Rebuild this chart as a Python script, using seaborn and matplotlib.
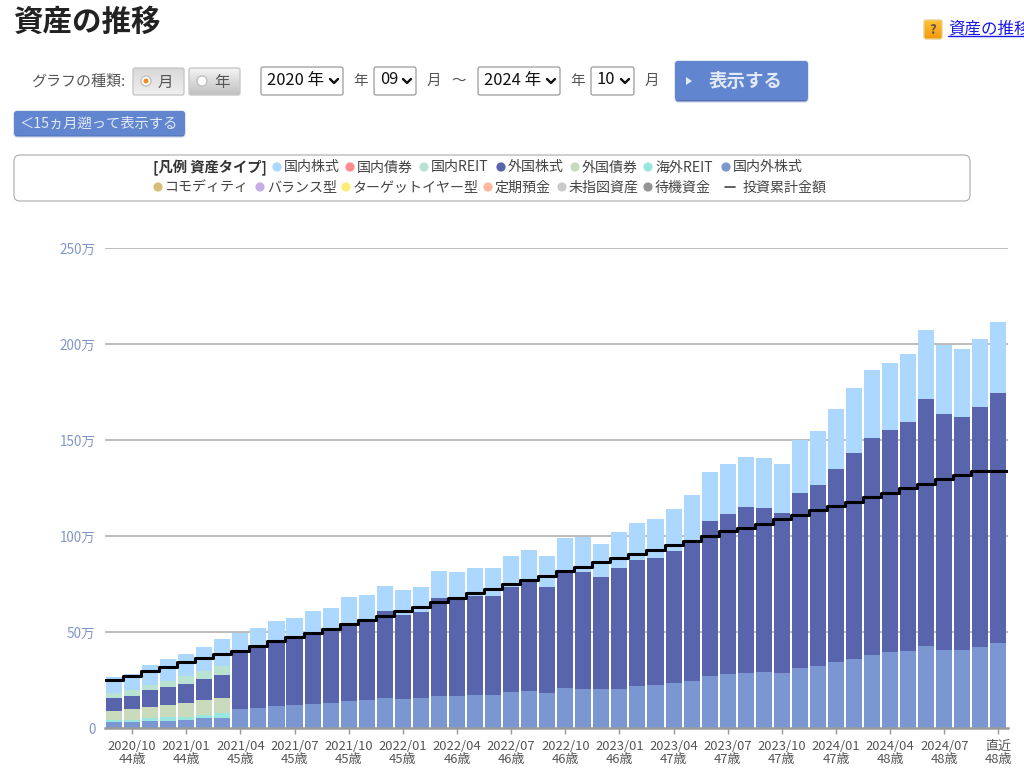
import numpy as np
import matplotlib
matplotlib.use("Agg")
import matplotlib.pyplot as plt
from matplotlib.patches import FancyBboxPatch, Circle, Polygon, Rectangle
import seaborn as sns

# ---------- data (万円) ----------
domestic_foreign = [3.0,3.3,3.6,3.8,4.2,5.0,5.4,10,10.6,11.6,12,12.7,13,14,14.6,15.4,14.9,15.4,16.7,16.8,17.2,17.2,18.6,19.1,18.4,20.7,20.5,20.2,20.5,21.7,22.2,23.3,24.7,27.1,28,28.8,29.3,28.5,31.1,32.3,34.2,36.1,38,39.4,39.9,42.9,40.8,40.5,42.4,44.1]
overseas_reit = [1.0,1.0,1.6,1.7,1.7,2.0,2.2] + [0]*43
foreign_bond = [5.0,5.6,5.9,6.5,7.1,7.4,8.2] + [0]*43
foreign_stock = [6.6,6.9,8.5,9.2,10,10.9,12,30,31.6,33.2,35.2,36.3,37.9,40.9,40.8,45.4,44,44.9,50.8,51.2,51.7,51.7,55,57.1,55.2,60.3,60.9,58.4,62.6,65.6,66.3,69,72.3,80.9,83.6,86.2,85.3,83.6,91.1,94.1,100.5,106.9,112.9,116,119.7,128.3,122.9,121.3,124.6,130.6]
domestic_reit = [2.6,2.8,3.0,3.3,4.0,4.4,4.7] + [0]*43
domestic_stock = [8.2,8.4,10.2,11.3,11.7,12.7,14,9.3,10,11,10.3,12,11.8,13.1,13.9,13.2,12.8,13,14.3,13,14.6,14.6,16,16.3,16,18,18.3,17.4,18.9,19.5,20.5,21.6,24.5,25.5,26.1,26,26,25.6,28,28.5,31.5,33.9,35.6,34.7,35.2,36.1,35.8,35.4,35.6,36.8]
invested = [25,27,29.5,32,34.4,36.5,38.5,40,42.5,45.1,47.4,49.5,51.6,54,56.3,58.5,61,63.2,65.5,67.9,70.1,72.5,75,76.9,79,81.8,83.9,86.3,88.5,90.4,92.7,95.1,97.6,100,102.4,104.2,106.4,108.9,111.1,113.5,115.8,117.9,120.1,122.6,124.8,127.2,129.5,131.9,133.8,133.8]
x_labels = ["2020/10\n44歳","2021/01\n44歳","2021/04\n45歳","2021/07\n45歳","2021/10\n45歳","2022/01\n45歳","2022/04\n46歳","2022/07\n46歳","2022/10\n46歳","2023/01\n46歳","2023/04\n47歳","2023/07\n47歳","2023/10\n47歳","2024/01\n47歳","2024/04\n48歳","2024/07\n48歳","直近\n48歳"]
y_values = [0,50,100,150,200,250]
y_labels = ["0","50万","100万","150万","200万","250万"]
legend_row1 = ["国内株式","国内債券","国内REIT","外国株式","外国債券","海外REIT","国内外株式"]
legend_row2 = ["コモディティ","バランス型","ターゲットイヤー型","定期預金","未指図資産","待機資金"]

# ---------- styles ----------
C_DF, C_OR, C_FB, C_FS, C_DR, C_DS = "#7a97d2", "#99e6e0", "#c9dbbc", "#5864ab", "#b9e2d2", "#acd7ff"
colors_row1 = ["#acd7ff","#ff8a8f","#b9e2d2","#5864ab","#c9dbbc","#99e6e0","#7a97d2"]
colors_row2 = ["#d6be78","#c6aee6","#fbec78","#ffb8a0","#c9c9c9","#959595"]
row1_dots = [277,350,424,501,575,648,726]
row2_dots = [158,260,346,488,562,648]
TXT = "#444444"

sns.set_theme(style="white")
plt.rcParams["font.family"] = ["Noto Sans CJK JP", "DejaVu Sans"]

W, H = 1024, 777
fig = plt.figure(figsize=(W/100, H/100), dpi=100, facecolor="white")

# ---------- page chrome in pixel coordinates ----------
ui = fig.add_axes([0, 0, 1, 1], zorder=0)
ui.set_xlim(0, W); ui.set_ylim(H, 0); ui.axis("off")

def px(s):
    return s * 0.72

def t(x, y, s, size=14, color=TXT, ha="left", weight="normal", **kw):
    return ui.text(x, y + 1.5, s, fontsize=px(size), color=color, ha=ha, va="center", fontweight=weight, **kw)

def rbox(x0, y0, x1, y1, r=3, fc="white", ec="#aaaaaa", lw=1.0, z=2):
    p = FancyBboxPatch((x0+r, y0+r), x1-x0-2*r, y1-y0-2*r, boxstyle=f"round,pad={r},rounding_size={r}",
                       fc=fc, ec=ec, lw=lw, zorder=z)
    ui.add_patch(p)
    return p

def grad_box(x0, y0, x1, y1, top, bottom, ec="#c8c8c8"):
    p = rbox(x0, y0, x1, y1, r=2, fc="none", ec=ec, lw=1.0, z=3)
    c0, c1 = np.array(matplotlib.colors.to_rgb(top)), np.array(matplotlib.colors.to_rgb(bottom))
    g = np.linspace(0, 1, 32)[:, None, None] * (c1 - c0) + c0
    im = ui.imshow(g, extent=(x0, x1, y1, y0), aspect="auto", zorder=2)
    im.set_clip_path(p)
    ui.set_xlim(0, W); ui.set_ylim(H, 0)

t(14, 20, "資産の推移", size=29.5, color="#222222", weight="bold")

# help link
grad_box(924, 20, 942, 39, "#ffc233", "#f59a0a", ec="#e8d090")
t(933, 28, "?", size=13, color="#555555", ha="center", weight="bold")
t(948, 27, "資産の推移", size=16.5, color="#1a1ae6")
ui.plot([948, 1024], [36, 36], color="#1a1ae6", lw=1)

# graph type
t(31, 80, "グラフの種類:", size=15, color="#555555")
grad_box(133, 68, 184, 95, "#d8d8d8", "#f0f0f0")
grad_box(189, 68, 240, 95, "#f4f4f4", "#c0c0c0")
for cx, on in ((146, True), (202, False)):
    ui.add_patch(Circle((cx, 81), 5, fc="white", ec="#c0c0c0", lw=1, zorder=4))
    if on:
        ui.add_patch(Circle((cx, 81), 2.5, fc="#f58a1f", ec="none", zorder=5))
t(165, 81, "月", size=15.5, ha="center", zorder=5, color="#555555")
t(222, 81, "年", size=15.5, ha="center", zorder=5, color="#555555")

# selects
def select(x0, x1, s):
    rbox(x0, 67, x1, 95, r=2, fc="white", ec="#8f8f8f", lw=0.8)
    t(x0+6, 78.5, s, size=16.5, color="#111111", zorder=5)
    cx = x1 - 9
    ui.plot([cx-4, cx, cx+4], [79, 83, 79], color="#111111", lw=1.7, zorder=5)

select(261, 343, "2020 年")
select(374, 416, "09")
select(478, 560, "2024 年")
select(591, 634, "10")
t(361, 79, "年", size=14.5, ha="center", color="#555555")
t(434, 79, "月", size=14.5, ha="center", color="#555555")
t(459, 79, "～", size=14.5, ha="center", color="#555555")
t(578, 79, "年", size=14.5, ha="center", color="#555555")
t(652, 79, "月", size=14.5, ha="center", color="#555555")

# buttons
rbox(675, 61, 808, 102, r=3, fc="#5472b5", ec="#c8d4ea", lw=0.8)
rbox(675, 61, 808, 100, r=3, fc="#6186cf", ec="none", lw=0, z=3)
ui.add_patch(Polygon([[686, 77], [692, 81], [686, 85]], fc="#e3eaf7", ec="none", zorder=4))
t(745.5, 80, "表示する", size=18.5, color="#e3eaf7", ha="center", zorder=5, weight="bold")

rbox(14, 111, 185, 137, r=3, fc="#5472b5", ec="#c8d4ea", lw=0.8)
rbox(14, 111, 185, 135.5, r=3, fc="#6186cf", ec="none", lw=0, z=3)
t(99, 122.5, "＜15ヵ月遡って表示する", size=14.3, color="#e3eaf7", ha="center", zorder=5)

# legend panel
rbox(14, 155, 970, 201, r=6, fc="white", ec="#aaaaaa", lw=0.8)
t(153, 166, "[凡例 資産タイプ]", size=14.3, color="#333333", weight="bold", zorder=5)
for cx, c, s in zip(row1_dots, colors_row1, legend_row1):
    ui.add_patch(Circle((cx, 167), 4.6, fc=c, ec="none", zorder=5))
    t(cx+7, 166, s, size=14, zorder=5)
for cx, c, s in zip(row2_dots, colors_row2, legend_row2):
    ui.add_patch(Circle((cx, 187), 4.6, fc=c, ec="none", zorder=5))
    t(cx+7, 186, s, size=14, zorder=5)
ui.plot([725, 735], [187, 187], color="#444444", lw=1.2, zorder=5)
t(743, 186, "投資累計金額", size=14, zorder=5)

# ---------- chart ----------
L, R, TOP, BOT = 105, 1008, 248, 728
ax = fig.add_axes([L/W, (H-BOT)/H, (R-L)/W, (BOT-TOP)/H], zorder=1)
ax.patch.set_alpha(0)

n = len(domestic_foreign)
months = np.arange(n)
series = [(domestic_foreign, C_DF), (overseas_reit, C_OR), (foreign_bond, C_FB),
          (foreign_stock, C_FS), (domestic_reit, C_DR), (domestic_stock, C_DS)]
tops = np.cumsum([np.array(v, float) for v, _ in series], axis=0)

for y in y_values[1:]:
    ax.axhline(y, color="#b0b0b0", lw=1.2, zorder=0)

for top, (_, c) in zip(tops[::-1], series[::-1]):
    sns.barplot(x=months, y=top, color=c, saturation=1, width=0.89, ax=ax, zorder=2, linewidth=0)

x_ext = np.concatenate([[-0.5], months, [n-0.5]])
y_ext = np.concatenate([[invested[0]], invested, [invested[-1]]])
sns.lineplot(x=x_ext, y=y_ext, color="black", lw=2.2, drawstyle="steps-mid",
             errorbar=None, ax=ax, zorder=4, sort=False)

ax.set_xlim(-0.5, (R-114)/18.05)
ax.set_ylim(0, 250)
ax.set_xlabel(""); ax.set_ylabel("")
for s in ("top", "left", "right"):
    ax.spines[s].set_visible(False)
ax.spines["bottom"].set_color("#999999")
ax.spines["bottom"].set_linewidth(1.8)
ax.set_yticks(y_values, y_labels)
ax.tick_params(axis="y", length=0, pad=7, labelsize=px(13.5), labelcolor="#8296c6")
tick_pos = list(range(1, n-3, 3)) + [n-1]
ax.set_xticks(tick_pos, x_labels)
ax.tick_params(axis="x", length=4, width=1, color="#999999", bottom=True, pad=4.5,
               labelsize=px(13), labelcolor="#555555")
for lab in ax.get_xticklabels():
    lab.set_linespacing(1.0)

fig.savefig("out.png", dpi=100, facecolor="white")
